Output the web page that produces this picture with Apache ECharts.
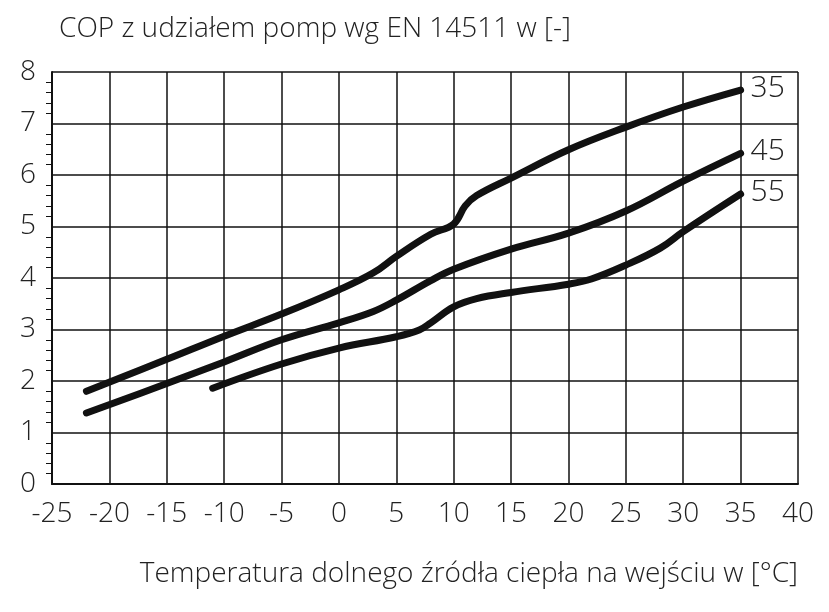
<!DOCTYPE html>
<html><head><meta charset="utf-8">
<script src="https://cdn.jsdelivr.net/npm/echarts@6/dist/echarts.min.js"></script>
<style>html,body{margin:0;padding:0;background:#fff}#c{width:829px;height:612px}</style>
</head><body><div id="c"></div>
<script>
// [temperatura, COP]
const curve35 = [[-22,1.8],[-15,2.42],[-10,2.87],[-5,3.3],[0,3.77],[3,4.1],[5,4.42],[8,4.85],[10,5.05],[11,5.4],[12,5.6],[15,5.94],[20,6.49],[25,6.93],[30,7.32],[35,7.65]];
const curve45 = [[-22,1.38],[-15,1.95],[-10,2.37],[-5,2.8],[0,3.13],[3,3.35],[5,3.57],[8,3.95],[10,4.17],[15,4.56],[20,4.87],[25,5.3],[30,5.88],[35,6.42]];
const curve55 = [[-11,1.86],[-5,2.33],[0,2.64],[5,2.86],[7,2.99],[8,3.13],[10,3.44],[12,3.6],[15,3.72],[20,3.88],[22,3.98],[25,4.25],[28,4.58],[30,4.9],[35,5.63]];
const seriesNames = ['35','45','55'];

const chart = echarts.init(document.getElementById('c'));
const txt = '#222';
const fnt = 'Open Sans';
const mk = (name, data) => ({
    name: name, type: 'line', data: data, smooth: 0.4, symbol: 'none',
    lineStyle: {color: '#111', width: 7, cap: 'round'},
    endLabel: {show: true, formatter: name, color: txt, fontSize: 30, fontFamily: fnt, fontWeight: 300, offset: [2, -2]}
});
chart.setOption({
    animation: false,
    grid: {left: 52, right: 31, top: 72, bottom: 128},
    title: {text: 'COP z udziałem pomp wg EN 14511 w [-]', left: 54, top: 10,
        textStyle: {color: txt, fontSize: 28, fontWeight: 300, fontFamily: fnt}},
    xAxis: {
        type: 'value', min: -25, max: 40, interval: 5,
        name: 'Temperatura dolnego źródła ciepła na wejściu w [°C]', nameLocation: 'end',
        nameGap: 0,
        nameTextStyle: {color: txt, fontSize: 28, fontFamily: fnt, fontWeight: 300, align: 'right', verticalAlign: 'top', padding: [76, 0, 0, 0]},
        axisLine: {lineStyle: {color: '#111', width: 2}},
        axisTick: {show: false},
        axisLabel: {color: txt, fontSize: 28, fontFamily: fnt, fontWeight: 300, margin: 16},
        splitLine: {lineStyle: {color: '#111', width: 1.5}}
    },
    yAxis: {
        type: 'value', min: 0, max: 8, interval: 1,
        axisLine: {show: true, onZero: false, lineStyle: {color: '#111', width: 2}},
        axisTick: {show: false},
        minorTick: {show: true, splitNumber: 5, length: 6, lineStyle: {color: '#111'}},
        axisLabel: {color: txt, fontSize: 28, fontFamily: fnt, fontWeight: 300, margin: 16},
        splitLine: {lineStyle: {color: '#111', width: 1.5}}
    },
    series: [mk(seriesNames[0], curve35), mk(seriesNames[1], curve45), mk(seriesNames[2], curve55)]
});
</script></body></html>
